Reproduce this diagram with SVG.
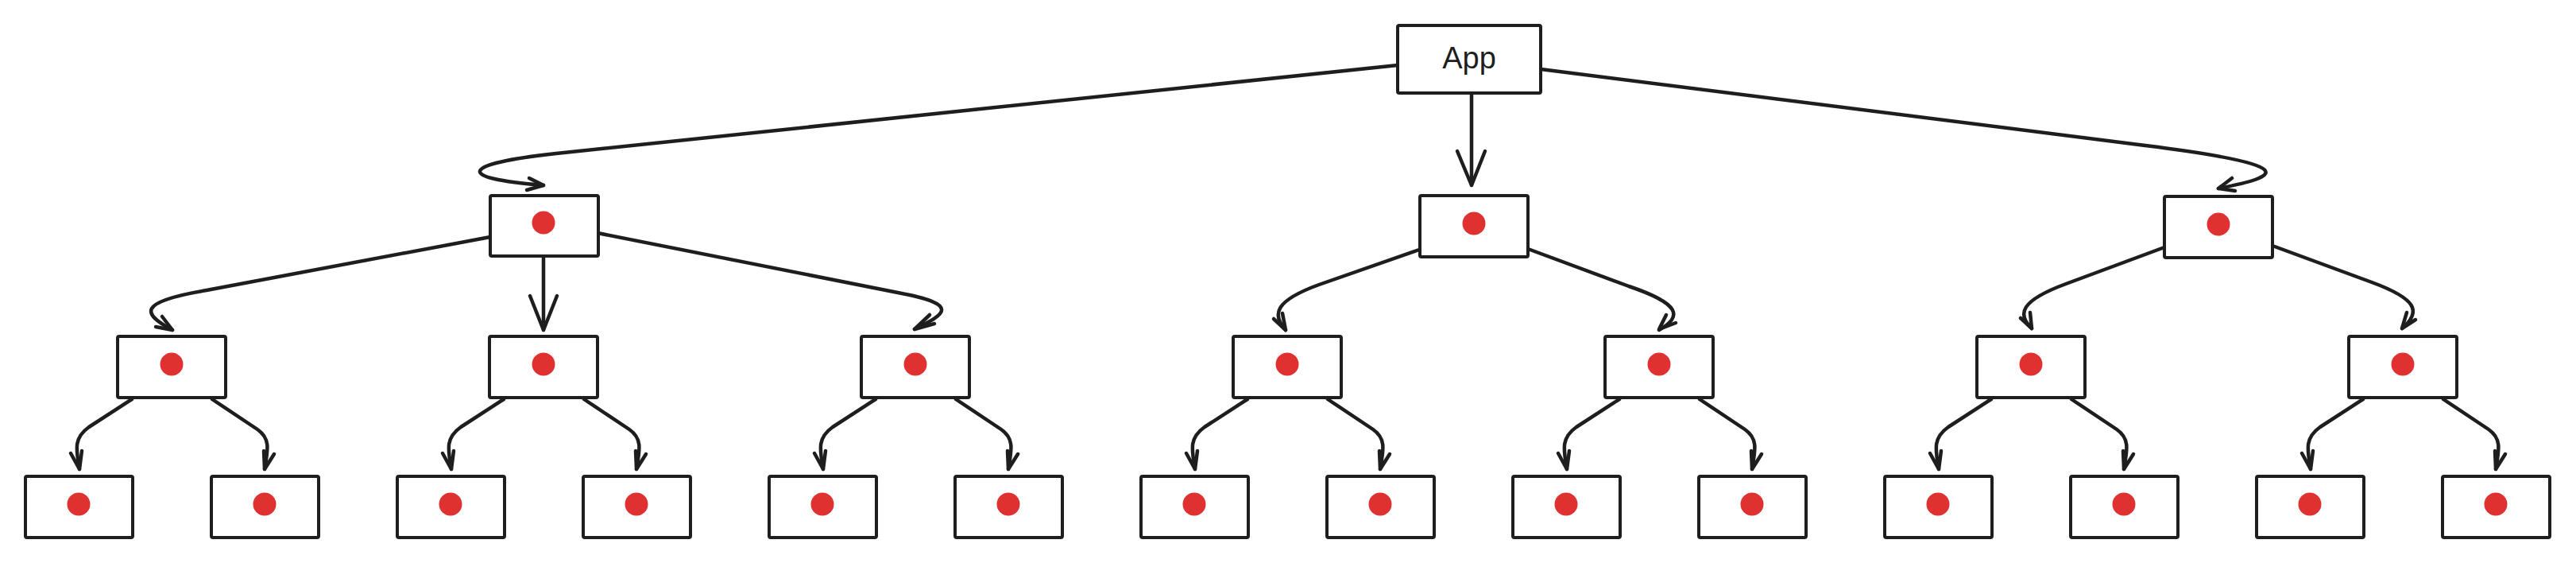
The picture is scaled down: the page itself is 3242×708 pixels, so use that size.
<svg xmlns="http://www.w3.org/2000/svg" width="3242" height="708" viewBox="0 0 3242 708">
<style>
.box{fill:#ffffff;stroke:#1e1e1e;stroke-width:4;stroke-linejoin:round}
.dot{fill:#e03131}
.ln{fill:none;stroke:#1e1e1e;stroke-width:4.5;stroke-linecap:round;stroke-linejoin:round}
.lbl{font-family:"Liberation Sans",Arial,sans-serif;font-size:38px;fill:#1e1e1e;text-anchor:middle}
</style>
<rect x="0" y="0" width="3242" height="708" fill="#ffffff"/>
<g id="connectors">
<path class="ln" d="M1759,82 L700,193 C580,206 570,224 684,233"/><path class="ln" d="M666,224 L684,233 L663,239"/>
<path class="ln" d="M1852,117 L1852,233"/><path class="ln" d="M1834,190 L1852,233 L1869,190"/>
<path class="ln" d="M1939,87 L2700,183 C2900,208 2870,222 2792,237"/><path class="ln" d="M2809,224 L2792,237 L2813,240"/>
<path class="ln" d="M617,298 L260,365 C170,380 180,395 217,415"/><path class="ln" d="M204,398 L217,415 L196,411"/>
<path class="ln" d="M684,322 L684,415"/><path class="ln" d="M667,372 L684,415 L701,372"/>
<path class="ln" d="M752,293 L1130,368 C1210,383 1190,395 1151,414"/><path class="ln" d="M1170,396 L1151,414 L1176,407"/>
<path class="ln" d="M1786,314 L1660,358 C1605,378 1600,395 1618,415"/><path class="ln" d="M1603,401 L1618,415 L1614,394"/>
<path class="ln" d="M1923,313 L2050,360 C2115,382 2118,398 2088,415"/><path class="ln" d="M2097,396 L2088,414 L2109,406"/>
<path class="ln" d="M2724,311 L2600,357 C2543,378 2538,395 2557,413"/><path class="ln" d="M2543,400 L2557,413 L2555,393"/>
<path class="ln" d="M2860,309 L2985,355 C3042,376 3048,392 3023,413"/><path class="ln" d="M3029,393 L3023,413 L3040,402"/>
<path class="ln" d="M166,502 L112,537 C92,551 96,566 100,590"/><path class="ln" d="M89,570 L100,590 L103,567"/>
<path class="ln" d="M267,502 L324,540 C341,552 337,566 333,590"/><path class="ln" d="M332,567 L333,590 L345,571"/>
<path class="ln" d="M634,502 L580,537 C560,551 564,566 568,590"/><path class="ln" d="M557,570 L568,590 L571,567"/>
<path class="ln" d="M735,502 L792,540 C809,552 805,566 801,590"/><path class="ln" d="M800,567 L801,590 L813,571"/>
<path class="ln" d="M1102,502 L1048,537 C1028,551 1032,566 1036,590"/><path class="ln" d="M1025,570 L1036,590 L1039,567"/>
<path class="ln" d="M1203,502 L1260,540 C1277,552 1273,566 1269,590"/><path class="ln" d="M1268,567 L1269,590 L1281,571"/>
<path class="ln" d="M1570,502 L1516,537 C1496,551 1500,566 1504,590"/><path class="ln" d="M1493,570 L1504,590 L1507,567"/>
<path class="ln" d="M1671,502 L1728,540 C1745,552 1741,566 1737,590"/><path class="ln" d="M1736,567 L1737,590 L1749,571"/>
<path class="ln" d="M2038,502 L1984,537 C1964,551 1968,566 1972,590"/><path class="ln" d="M1961,570 L1972,590 L1975,567"/>
<path class="ln" d="M2139,502 L2196,540 C2213,552 2209,566 2205,590"/><path class="ln" d="M2204,567 L2205,590 L2217,571"/>
<path class="ln" d="M2506,502 L2452,537 C2432,551 2436,566 2440,590"/><path class="ln" d="M2429,570 L2440,590 L2443,567"/>
<path class="ln" d="M2607,502 L2664,540 C2681,552 2677,566 2673,590"/><path class="ln" d="M2672,567 L2673,590 L2685,571"/>
<path class="ln" d="M2974,502 L2920,537 C2900,551 2904,566 2908,590"/><path class="ln" d="M2897,570 L2908,590 L2911,567"/>
<path class="ln" d="M3075,502 L3132,540 C3149,552 3145,566 3141,590"/><path class="ln" d="M3140,567 L3141,590 L3153,571"/>
</g>
<g id="app"><rect class="box" x="1759" y="32" width="180" height="85" rx="2"/><text class="lbl" x="1849" y="86">App</text></g>
<g id="l1-a"><rect class="box" x="617" y="246" width="136" height="76" rx="2"/><circle class="dot" cx="684" cy="280" r="14.5"/></g>
<g id="l1-b"><rect class="box" x="1787" y="246" width="136" height="77" rx="2"/><circle class="dot" cx="1855" cy="281" r="14.5"/></g>
<g id="l1-c"><rect class="box" x="2724" y="247" width="136" height="77" rx="2"/><circle class="dot" cx="2792" cy="282" r="14.5"/></g>
<g id="l2-a"><rect class="box" x="148" y="423" width="136" height="77" rx="2"/><circle class="dot" cx="216" cy="458" r="14.5"/></g>
<g id="l2-b"><rect class="box" x="616" y="423" width="136" height="77" rx="2"/><circle class="dot" cx="684" cy="458" r="14.5"/></g>
<g id="l2-c"><rect class="box" x="1084" y="423" width="136" height="77" rx="2"/><circle class="dot" cx="1152" cy="458" r="14.5"/></g>
<g id="l2-d"><rect class="box" x="1552" y="423" width="136" height="77" rx="2"/><circle class="dot" cx="1620" cy="458" r="14.5"/></g>
<g id="l2-e"><rect class="box" x="2020" y="423" width="136" height="77" rx="2"/><circle class="dot" cx="2088" cy="458" r="14.5"/></g>
<g id="l2-f"><rect class="box" x="2488" y="423" width="136" height="77" rx="2"/><circle class="dot" cx="2556" cy="458" r="14.5"/></g>
<g id="l2-g"><rect class="box" x="2956" y="423" width="136" height="77" rx="2"/><circle class="dot" cx="3024" cy="458" r="14.5"/></g>
<g id="l3-1"><rect class="box" x="32" y="599" width="135" height="77" rx="2"/><circle class="dot" cx="99" cy="634" r="14.5"/></g>
<g id="l3-2"><rect class="box" x="266" y="599" width="135" height="77" rx="2"/><circle class="dot" cx="333" cy="634" r="14.5"/></g>
<g id="l3-3"><rect class="box" x="500" y="599" width="135" height="77" rx="2"/><circle class="dot" cx="567" cy="634" r="14.5"/></g>
<g id="l3-4"><rect class="box" x="734" y="599" width="135" height="77" rx="2"/><circle class="dot" cx="801" cy="634" r="14.5"/></g>
<g id="l3-5"><rect class="box" x="968" y="599" width="135" height="77" rx="2"/><circle class="dot" cx="1035" cy="634" r="14.5"/></g>
<g id="l3-6"><rect class="box" x="1202" y="599" width="135" height="77" rx="2"/><circle class="dot" cx="1269" cy="634" r="14.5"/></g>
<g id="l3-7"><rect class="box" x="1436" y="599" width="135" height="77" rx="2"/><circle class="dot" cx="1503" cy="634" r="14.5"/></g>
<g id="l3-8"><rect class="box" x="1670" y="599" width="135" height="77" rx="2"/><circle class="dot" cx="1737" cy="634" r="14.5"/></g>
<g id="l3-9"><rect class="box" x="1904" y="599" width="135" height="77" rx="2"/><circle class="dot" cx="1971" cy="634" r="14.5"/></g>
<g id="l3-10"><rect class="box" x="2138" y="599" width="135" height="77" rx="2"/><circle class="dot" cx="2205" cy="634" r="14.5"/></g>
<g id="l3-11"><rect class="box" x="2372" y="599" width="135" height="77" rx="2"/><circle class="dot" cx="2439" cy="634" r="14.5"/></g>
<g id="l3-12"><rect class="box" x="2606" y="599" width="135" height="77" rx="2"/><circle class="dot" cx="2673" cy="634" r="14.5"/></g>
<g id="l3-13"><rect class="box" x="2840" y="599" width="135" height="77" rx="2"/><circle class="dot" cx="2907" cy="634" r="14.5"/></g>
<g id="l3-14"><rect class="box" x="3074" y="599" width="135" height="77" rx="2"/><circle class="dot" cx="3141" cy="634" r="14.5"/></g>
</svg>
